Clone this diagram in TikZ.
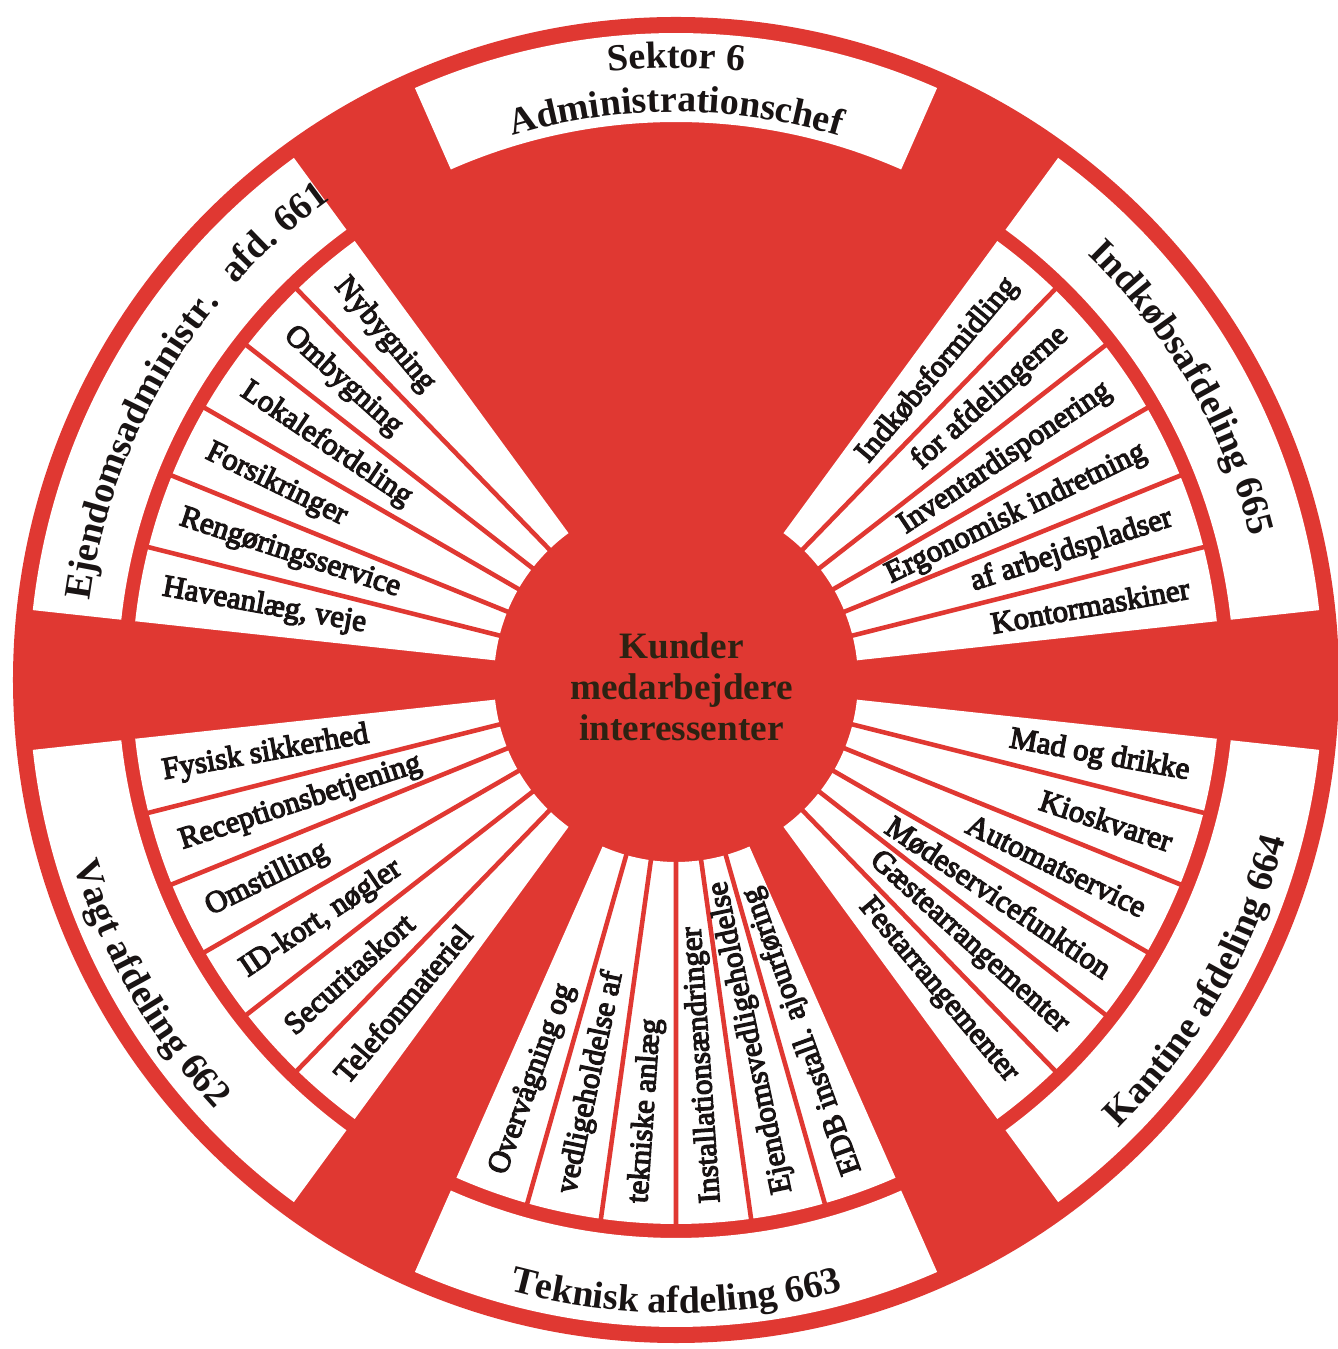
\documentclass[tikz,border=0pt]{standalone}
\usepackage{fontspec}
\setmainfont{Liberation Serif}
\newfontfamily\wheelface{Liberation Serif}[FakeBold=4]
\usepackage{tikz}
\usetikzlibrary{decorations.text}

\definecolor{wheelred}{RGB}{224,56,50}
\definecolor{hubink}{RGB}{45,34,18}
\definecolor{ink}{RGB}{25,20,20}

\newcommand{\itemfont}{\wheelface\fontsize{8.8}{9}\selectfont}
\newcommand{\titlefont}{\bfseries\fontsize{10.8}{12}\selectfont}

\begin{document}
\begin{tikzpicture}[
    band/.style={fill=white},
    divider/.style={draw=wheelred, line width=1.3pt},
    item/.style={font=\itemfont, text=ink, inner sep=0pt},
    arctitle/.style={decorate, decoration={text along path, text align=center,
        text color=ink, text={|\titlefont|#1}}}
  ]
  \useasboundingbox (-6.76,-6.69) rectangle (6.61,6.80);
  \fill[white] (-6.76,-6.69) rectangle (6.61,6.80);
  \coordinate (hub) at (0,0);

  % red wheel
  \fill[wheelred] (hub) circle (6.63);

  % title bands
  \foreach \c in {90,30,-30,-90,-150,150} {
    \fill[band] ({\c-23.8}:6.47) arc[start angle=\c-23.8, end angle=\c+23.8, radius=6.47]
      -- ({\c+23.8}:5.58) arc[start angle=\c+23.8, end angle=\c-23.8, radius=5.58] -- cycle;
  }

  % spokes, six tasks per department
  \foreach \c in {30,-30,-90,-150,150} {
    \fill[band] ({\c-23.8}:5.44) arc[start angle=\c-23.8, end angle=\c+23.8, radius=5.44]
      -- ({\c+23.8}:1.82) arc[start angle=\c+23.8, end angle=\c-23.8, radius=1.82] -- cycle;
    \foreach \k in {1,...,5}
      \draw[divider] ({\c-23.8+\k*7.933}:1.7) -- ({\c-23.8+\k*7.933}:5.5);
  }

  % Ejendomsadministration 661
  \foreach \lbl [count=\k] in {Nybygning,Ombygning,Lokalefordeling,Forsikringer,Rengøringsservice,{Haveanlæg, veje}}
    \node[item, anchor=west, rotate=122.233+\k*7.933+180] (ejd\k) at ({122.233+\k*7.933}:5.22) {\lbl};

  % Indkobsafdeling 665
  \foreach \lbl [count=\k] in {Kontormaskiner,af arbejdspladser,Ergonomisk indretning,Inventardisponering,for afdelingerne,Indkøbsformidling}
    \node[item, anchor=east, rotate=2.233+\k*7.933] (ink\k) at ({2.233+\k*7.933}:5.22) {\lbl};

  % Kantine 664
  \foreach \lbl [count=\k] in {Festarrangementer,Gæstearrangementer,Mødeservicefunktion,Automatservice,Kioskvarer,Mad og drikke}
    \node[item, anchor=east, rotate=-57.767+\k*7.933] (kan\k) at ({-57.767+\k*7.933}:5.22) {\lbl};

  % Teknisk 663
  \foreach \lbl [count=\k] in {Overvågning og,vedligeholdelse af,tekniske anlæg,Installationsændringer,Ejendomsvedligeholdelse,EDB install. ajourføring}
    \node[item, anchor=west, rotate=62.233+\k*7.933] (tek\k) at ({-117.767+\k*7.933}:5.25) {\lbl};

  % Vagt 662
  \foreach \lbl [count=\k] in {Fysisk sikkerhed,Receptionsbetjening,Omstilling,{ID-kort, nøgler},Securitaskort,Telefonmateriel}
    \node[item, anchor=west, rotate=2.233+\k*7.933] (vag\k) at ({-177.767+\k*7.933}:5.22) {\lbl};

  % department titles
  \path[arctitle={Sektor 6}] (118:6.12) arc[start angle=118, end angle=62, radius=6.12];
  \path[arctitle={Administrationschef}] (118:5.68) arc[start angle=118, end angle=62, radius=5.68];
  \path[arctitle={Ejendomsadministr.{\hspace{0.6em}}afd. 661}] (179:5.92) arc[start angle=179, end angle=119, radius=5.92];
  \path[arctitle={Indkøbsafdeling 665}] (59:5.92) arc[start angle=59, end angle=1, radius=5.92];
  \path[arctitle={Kantine afdeling 664}] (-59:6.30) arc[start angle=-59, end angle=-1, radius=6.30];
  \path[arctitle={Teknisk afdeling 663}] (-119:6.33) arc[start angle=-119, end angle=-61, radius=6.33];
  \path[arctitle={Vagt afdeling 662}] (181:6.30) arc[start angle=181, end angle=239, radius=6.30];

  % hub
  \node[font=\bfseries\fontsize{10.6}{11.7}\selectfont, text=hubink, align=center] (core) at (0.055,-0.07)
    {Kunder\\medarbejdere\\interessenter};
\end{tikzpicture}
\end{document}
